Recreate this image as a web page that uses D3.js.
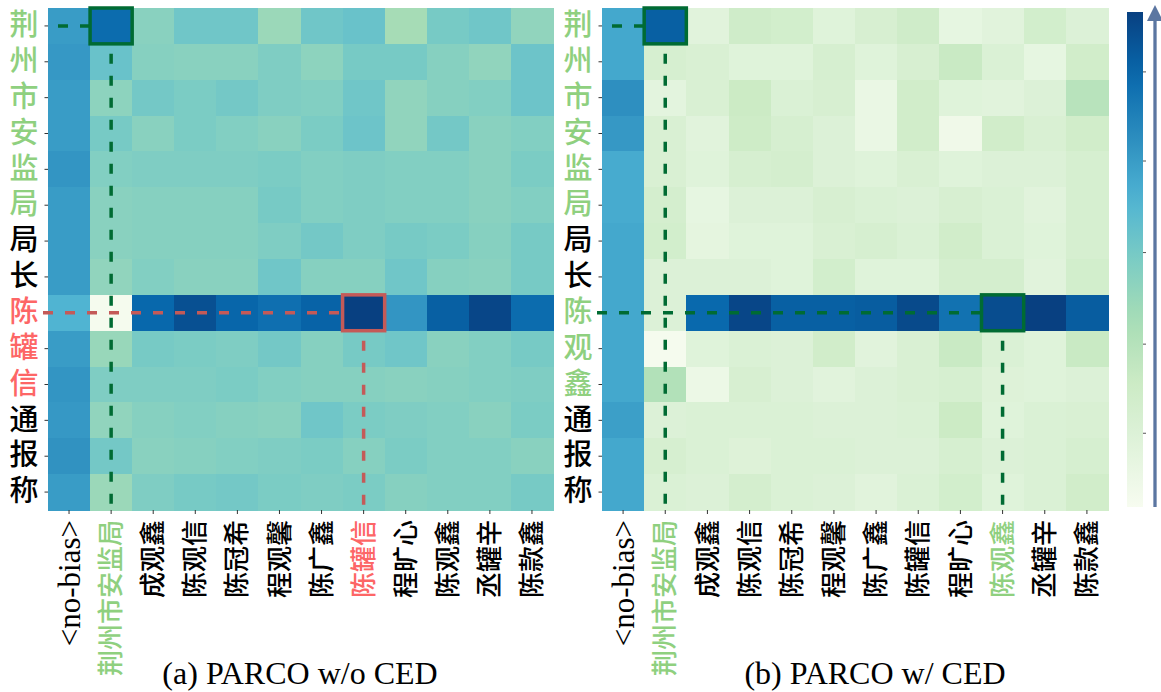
<!DOCTYPE html>
<html>
<head>
<meta charset="utf-8">
<script src="https://cdn.jsdelivr.net/npm/d3@7"></script>
<style>
  html, body { margin: 0; padding: 0; background: #fff; }
  svg { display: block; }
</style>
</head>
<body>
<svg id="chart" width="1161" height="692"></svg>
<script>
// Column (key) tokens shared by both panels
const xLabels = ["<no-bias>", "荆州市安监局", "成观鑫", "陈观信", "陈冠希", "程观馨",
                 "陈广鑫", "陈罐信", "程旷心", "陈观鑫", "丞罐辛", "陈款鑫"];

// Row (query) characters
const yLabelsA = ["荆", "州", "市", "安", "监", "局", "局", "长", "陈", "罐", "信", "通", "报", "称"];
const yLabelsB = ["荆", "州", "市", "安", "监", "局", "局", "长", "陈", "观", "鑫", "通", "报", "称"];

// Attention weights, panel (a) PARCO w/o CED
const attnA = [
  [0.70, 0.86, 0.46, 0.53, 0.53, 0.41, 0.53, 0.55, 0.38, 0.51, 0.53, 0.44],
  [0.71, 0.55, 0.47, 0.46, 0.46, 0.49, 0.45, 0.51, 0.51, 0.47, 0.44, 0.54],
  [0.70, 0.45, 0.52, 0.50, 0.52, 0.49, 0.48, 0.53, 0.44, 0.47, 0.48, 0.54],
  [0.70, 0.51, 0.46, 0.50, 0.48, 0.46, 0.50, 0.54, 0.44, 0.52, 0.46, 0.48],
  [0.72, 0.48, 0.49, 0.49, 0.49, 0.50, 0.48, 0.49, 0.48, 0.48, 0.46, 0.50],
  [0.70, 0.46, 0.47, 0.47, 0.47, 0.51, 0.48, 0.49, 0.48, 0.48, 0.46, 0.48],
  [0.70, 0.46, 0.47, 0.47, 0.47, 0.49, 0.52, 0.49, 0.51, 0.50, 0.47, 0.51],
  [0.70, 0.44, 0.48, 0.46, 0.46, 0.53, 0.47, 0.47, 0.53, 0.47, 0.46, 0.51],
  [0.62, 0.01, 0.875, 0.95, 0.88, 0.85, 0.89, 1.00, 0.72, 0.90, 0.98, 0.86],
  [0.70, 0.42, 0.51, 0.50, 0.49, 0.52, 0.47, 0.51, 0.53, 0.46, 0.48, 0.51],
  [0.72, 0.49, 0.49, 0.49, 0.50, 0.48, 0.47, 0.47, 0.46, 0.47, 0.48, 0.49],
  [0.71, 0.44, 0.47, 0.48, 0.47, 0.46, 0.53, 0.50, 0.49, 0.48, 0.46, 0.50],
  [0.73, 0.52, 0.46, 0.47, 0.48, 0.49, 0.50, 0.47, 0.50, 0.48, 0.48, 0.46],
  [0.70, 0.41, 0.49, 0.51, 0.52, 0.50, 0.49, 0.50, 0.47, 0.48, 0.48, 0.51]
];

// Attention weights, panel (b) PARCO w/ CED
const attnB = [
  [0.66, 0.90, 0.12, 0.23, 0.21, 0.13, 0.18, 0.23, 0.09, 0.12, 0.21, 0.15],
  [0.66, 0.19, 0.17, 0.13, 0.13, 0.19, 0.13, 0.18, 0.26, 0.16, 0.09, 0.22],
  [0.74, 0.11, 0.17, 0.25, 0.16, 0.18, 0.07, 0.22, 0.13, 0.12, 0.15, 0.32],
  [0.71, 0.17, 0.12, 0.24, 0.19, 0.15, 0.07, 0.22, 0.04, 0.22, 0.17, 0.22],
  [0.65, 0.17, 0.13, 0.19, 0.20, 0.15, 0.13, 0.17, 0.13, 0.15, 0.15, 0.19],
  [0.65, 0.20, 0.09, 0.15, 0.15, 0.18, 0.16, 0.15, 0.18, 0.16, 0.12, 0.19],
  [0.66, 0.21, 0.10, 0.13, 0.13, 0.17, 0.19, 0.16, 0.22, 0.16, 0.13, 0.19],
  [0.66, 0.15, 0.15, 0.15, 0.13, 0.21, 0.13, 0.13, 0.20, 0.20, 0.12, 0.21],
  [0.66, 0.15, 0.87, 0.98, 0.90, 0.90, 0.91, 0.97, 0.84, 0.96, 1.00, 0.91],
  [0.66, 0.01, 0.13, 0.16, 0.15, 0.22, 0.12, 0.17, 0.26, 0.16, 0.13, 0.26],
  [0.66, 0.34, 0.06, 0.18, 0.15, 0.12, 0.15, 0.17, 0.19, 0.14, 0.13, 0.15],
  [0.69, 0.15, 0.16, 0.16, 0.16, 0.15, 0.15, 0.16, 0.25, 0.13, 0.16, 0.17],
  [0.66, 0.19, 0.16, 0.14, 0.16, 0.16, 0.15, 0.15, 0.19, 0.15, 0.16, 0.19],
  [0.66, 0.16, 0.15, 0.20, 0.16, 0.15, 0.12, 0.16, 0.21, 0.13, 0.16, 0.22]
];

// Highlighted tokens: label indices and the (row, col) cells that are boxed
const xHighlightA = { 1: "green", 7: "red" };
const yHighlightA = { 0: "green", 1: "green", 2: "green", 3: "green", 4: "green", 5: "green",
                      8: "red", 9: "red", 10: "red" };
const xHighlightB = { 1: "green", 9: "green" };
const yHighlightB = { 0: "green", 1: "green", 2: "green", 3: "green", 4: "green", 5: "green",
                      8: "green", 9: "green", 10: "green" };
const boxesA = [{ row: 0, col: 1, kind: "green" }, { row: 8, col: 7, kind: "red" }];
const boxesB = [{ row: 0, col: 1, kind: "green" }, { row: 8, col: 9, kind: "green" }];

const captions = ["(a) PARCO w/o CED", "(b) PARCO w/ CED"];
const colorbarTicks = [0.15, 0.33, 0.515, 0.70, 0.88];

// ---- styling ----
const labelColor = { green: "#8fd07f", red: "#fd6666" };
const markColor  = { green: "#006b33", red: "#c45a58" };
const fontFamily = "'Liberation Serif', 'Noto Sans CJK SC', serif";
const isLatin = s => /^[\x00-\x7f]+$/.test(s);

// matplotlib GnBu, linear through its nine anchors
const gnbu = ["#f7fcf0", "#e0f3db", "#ccebc5", "#a8ddb5", "#7bccc4",
              "#4eb3d3", "#2b8cbe", "#0868ac", "#084081"];
const color = d3.scaleLinear()
  .domain(d3.range(gnbu.length).map(i => i / (gnbu.length - 1)))
  .range(gnbu)
  .interpolate(d3.interpolateRgb)
  .clamp(true);

const svg = d3.select("#chart");
svg.append("rect").attr("width", 1161).attr("height", 692).attr("fill", "#fff");

const plotTop = 8, plotBottom = 510;

function drawPanel(cfg) {
  const g = svg.append("g");
  const x = d3.scaleBand().domain(d3.range(xLabels.length)).range([cfg.left, cfg.right]);
  const y = d3.scaleBand().domain(d3.range(cfg.yLabels.length)).range([plotTop, plotBottom]);

  // cells
  const cells = [];
  cfg.values.forEach((row, r) => row.forEach((v, c) => cells.push({ r, c, v })));
  g.append("g").selectAll("rect").data(cells).join("rect")
    .attr("x", d => x(d.c))
    .attr("y", d => y(d.r))
    .attr("width", x.bandwidth() + 0.5)
    .attr("height", y.bandwidth() + 0.5)
    .attr("fill", d => color(d.v))
    .attr("shape-rendering", "crispEdges");

  // y axis
  const yAxis = g.append("g")
    .attr("transform", `translate(${cfg.left},0)`)
    .call(d3.axisLeft(y).tickSize(3.5).tickPadding(6).tickFormat(i => cfg.yLabels[i]));
  yAxis.select(".domain").remove();
  yAxis.selectAll(".tick line").attr("stroke", "#333").attr("stroke-width", 1);
  yAxis.selectAll(".tick text")
    .attr("font-family", fontFamily)
    .attr("font-size", 29)
    .attr("font-weight", 500)
    .attr("fill", i => cfg.yHighlight[i] ? labelColor[cfg.yHighlight[i]] : "#000");

  // x axis
  const xAxis = g.append("g")
    .attr("transform", `translate(0,${plotBottom})`)
    .call(d3.axisBottom(x).tickSize(4).tickFormat(i => xLabels[i]));
  xAxis.select(".domain").remove();
  xAxis.selectAll(".tick line").attr("stroke", "#333").attr("stroke-width", 1);
  xAxis.selectAll(".tick text")
    .attr("font-family", fontFamily)
    .attr("font-size", i => isLatin(xLabels[i]) ? 31 : 26)
    .attr("font-weight", i => isLatin(xLabels[i]) ? 400 : 500)
    .attr("text-anchor", "end")
    .attr("dy", "0.35em")
    .attr("transform", "translate(0,10) rotate(-90)")
    .attr("x", 0).attr("y", 0)
    .attr("fill", i => cfg.xHighlight[i] ? labelColor[cfg.xHighlight[i]] : "#000");

  // dashed guides and boxes
  const guides = g.append("g");
  cfg.boxes.forEach(b => {
    const bx = x(b.col), by = y(b.row);
    const cx = bx + x.bandwidth() / 2, cy = by + y.bandwidth() / 2;
    const col = markColor[b.kind];
    const startX = b.row === 0 ? cfg.left + 10 : cfg.left - 5;
    guides.append("line")
      .attr("x1", startX).attr("x2", bx)
      .attr("y1", cy).attr("y2", cy)
      .attr("stroke", col).attr("stroke-width", 3.5)
      .attr("stroke-dasharray", "10,12");
    guides.append("line")
      .attr("x1", cx).attr("x2", cx)
      .attr("y1", by + y.bandwidth() + 10).attr("y2", plotBottom + 2)
      .attr("stroke", col).attr("stroke-width", 3.5)
      .attr("stroke-dasharray", "10,12");
    guides.append("rect")
      .attr("x", bx).attr("y", by)
      .attr("width", x.bandwidth()).attr("height", y.bandwidth())
      .attr("fill", "none")
      .attr("stroke", col).attr("stroke-width", 3.5);
  });

  // caption
  svg.append("text")
    .attr("x", cfg.captionX).attr("y", 684)
    .attr("text-anchor", "middle")
    .attr("font-family", "'Liberation Serif', serif")
    .attr("font-size", 32)
    .attr("fill", "#000")
    .text(cfg.caption);
}

drawPanel({ left: 48, right: 553, values: attnA, yLabels: yLabelsA,
            xHighlight: xHighlightA, yHighlight: yHighlightA, boxes: boxesA,
            caption: captions[0], captionX: 300 });
drawPanel({ left: 602, right: 1108, values: attnB, yLabels: yLabelsB,
            xHighlight: xHighlightB, yHighlight: yHighlightB, boxes: boxesB,
            caption: captions[1], captionX: 875 });

// colour bar
const cbX = 1127, cbW = 16, cbTop = 12, cbBottom = 507;
const defs = svg.append("defs");
const grad = defs.append("linearGradient").attr("id", "cbGrad")
  .attr("x1", 0).attr("y1", 1).attr("x2", 0).attr("y2", 0);
d3.range(0, 1.0001, 0.05).forEach(t => {
  grad.append("stop").attr("offset", t).attr("stop-color", color(t));
});
svg.append("rect")
  .attr("x", cbX).attr("y", cbTop).attr("width", cbW).attr("height", cbBottom - cbTop)
  .attr("fill", "url(#cbGrad)");
const cbScale = d3.scaleLinear().domain([0, 1]).range([cbBottom, cbTop]);
const cbAxis = svg.append("g")
  .attr("transform", `translate(${cbX + cbW},0)`)
  .call(d3.axisRight(cbScale).tickValues(colorbarTicks).tickSize(3).tickFormat(""));
cbAxis.select(".domain").remove();
cbAxis.selectAll(".tick line").attr("stroke", "#555").attr("stroke-width", 1);

// upward arrow beside the colour bar
const arrowColor = "#5b76a1";
svg.append("line")
  .attr("x1", 1155).attr("x2", 1155)
  .attr("y1", cbBottom).attr("y2", 19)
  .attr("stroke", arrowColor).attr("stroke-width", 3.3);
svg.append("path")
  .attr("d", "M1155,5 L1147,21 L1163,21 Z")
  .attr("fill", arrowColor);
</script>
</body>
</html>
